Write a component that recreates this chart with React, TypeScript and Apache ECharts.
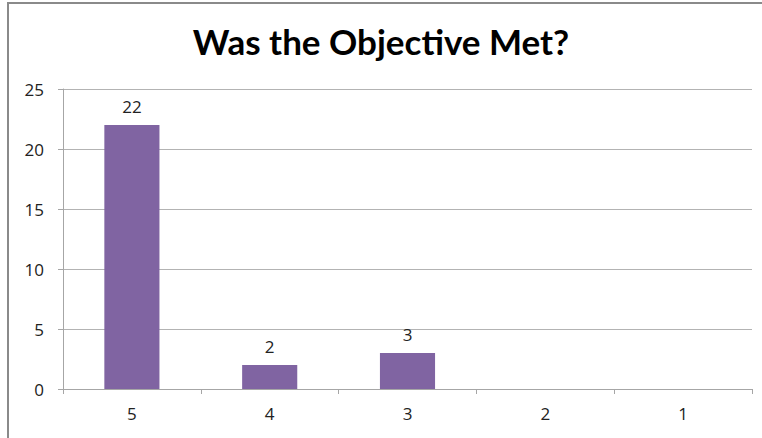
import React, { useEffect, useRef } from "react";
import * as echarts from "echarts";

const categories = ["5", "4", "3", "2", "1"];
const values = [22, 2, 3, 0, 0];
const titleText = "Was the Objective Met?";

const TITLE_FONT = "Lato";
const FONT = "Open Sans";

export default function App() {
  const ref = useRef<HTMLDivElement>(null);
  useEffect(() => {
    document.body.style.margin = "0";
    const chart = echarts.init(ref.current!, null, { renderer: "svg" });
    chart.setOption({
      animation: false,
      backgroundColor: "#ffffff",
      title: {
        text: titleText,
        left: "center",
        top: 18,
        textStyle: { fontFamily: TITLE_FONT, fontWeight: "bold", fontSize: 35, color: "#000" },
      },
      graphic: [
        {
          type: "rect",
          shape: { x: 8, y: 3, width: 760, height: 445 },
          style: { fill: "none", stroke: "#8a8a8a", lineWidth: 2 },
          silent: true,
        },
      ],
      grid: { left: 63, right: 10, top: 89, bottom: 49 },
      xAxis: {
        type: "category",
        data: categories,
        axisLine: { lineStyle: { color: "#a6a6a6", width: 1 } },
        axisTick: { show: true, length: 5, lineStyle: { color: "#a6a6a6" } },
        axisLabel: { fontFamily: FONT, fontSize: 17, color: "#222", margin: 16 },
      },
      yAxis: {
        type: "value",
        min: 0,
        max: 25,
        interval: 5,
        axisLine: { show: true, lineStyle: { color: "#a6a6a6", width: 1 } },
        axisTick: { show: true, length: 5, lineStyle: { color: "#a6a6a6" } },
        axisLabel: { fontFamily: FONT, fontSize: 17, color: "#222", margin: 19 },
        splitLine: { lineStyle: { color: "#b3b3b3", width: 1 } },
      },
      series: [
        {
          type: "bar",
          data: values,
          barWidth: "40%",
          itemStyle: { color: "#8064a2" },
          label: {
            show: true,
            position: "top",
            distance: 10,
            fontFamily: FONT,
            fontSize: 17,
            color: "#222",
            formatter: (p: any) => (p.value > 0 ? String(p.value) : ""),
          },
        },
      ],
    });
    return () => chart.dispose();
  }, []);
  return <div ref={ref} style={{ width: 762, height: 438 }} />;
}
